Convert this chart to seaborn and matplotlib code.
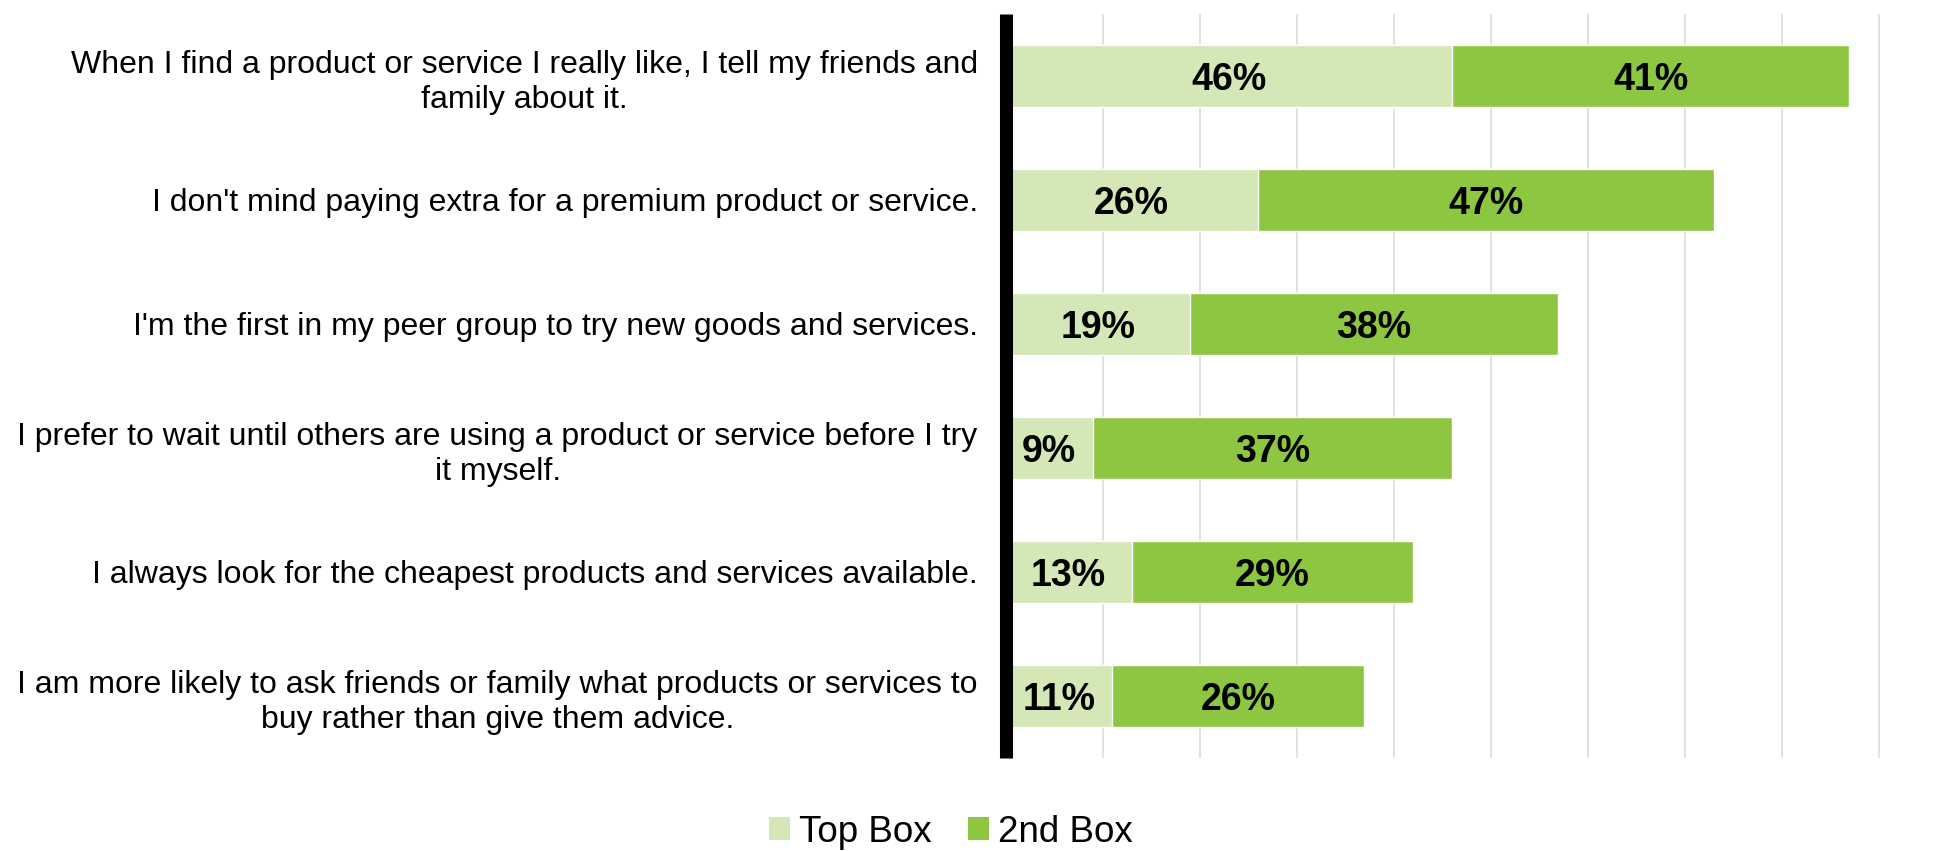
import matplotlib
matplotlib.use("Agg")
import matplotlib.pyplot as plt
import seaborn as sns
import pandas as pd
from matplotlib.patches import Patch

categories = [
    "When I find a product or service I really like, I tell my friends and\nfamily about it.",
    "I don't mind paying extra for a premium product or service.",
    "I'm the first in my peer group to try new goods and services.",
    "I prefer to wait until others are using a product or service before I try\nit myself.",
    "I always look for the cheapest products and services available.",
    "I am more likely to ask friends or family what products or services to\nbuy rather than give them advice.",
]
top_box = [46, 26, 19, 9, 13, 11]
second_box = [41, 47, 38, 37, 29, 26]
series_names = ["Top Box", "2nd Box"]

light = "#D3E8B6"
dark = "#8DC641"

sns.set_theme(style="white")
plt.rcParams["font.family"] = ["Liberation Sans", "DejaVu Sans"]
plt.rcParams["text.color"] = "black"
plt.rcParams["ytick.color"] = "black"

df = pd.DataFrame({"cat": categories, "top": top_box, "second": second_box})
df["total"] = df["top"] + df["second"]

fig = plt.figure(figsize=(19.6, 8.51), dpi=100)
ax = fig.add_axes([1005.5 / 1960, 1 - 758 / 851, 1 - 1005.5 / 1960, (758 - 14) / 851])

sns.barplot(data=df, y="cat", x="total", color=dark, orient="h", width=0.5,
            saturation=1, ax=ax, zorder=2)
sns.barplot(data=df, y="cat", x="top", color=light, orient="h", width=0.5,
            saturation=1, ax=ax, zorder=3)

ax.set_xlim(0, (1960 - 1005.5) / 9.7)
ax.set_ylim(5.5, -0.5)
ax.set_xticks(range(10, 100, 10))
ax.grid(axis="x", color="#D9D9D9", linewidth=1.1, zorder=0)
ax.grid(axis="y", visible=False)
ax.tick_params(axis="x", bottom=False, labelbottom=False)
ax.tick_params(axis="y", left=False, pad=14, labelsize=23, labelcolor="black")
for lbl in ax.get_yticklabels():
    lbl.set_multialignment("center")
    lbl.set_linespacing(1.26)
ax.set_xlabel("")
ax.set_ylabel("")
for s in ["top", "right", "bottom", "left"]:
    ax.spines[s].set_visible(False)
ax.axvline(0, color="black", linewidth=9.4, zorder=5, clip_on=False,
           solid_capstyle="butt")

for i, (t, s) in enumerate(zip(top_box, second_box)):
    ax.text(t / 2, i, f"{t}%", ha="center", va="center_baseline", fontsize=27,
            fontweight="bold", color="black", zorder=6)
    ax.text(t + s / 2, i, f"{s}%", ha="center", va="center_baseline", fontsize=27,
            fontweight="bold", color="black", zorder=6)

handles = [Patch(facecolor=light, edgecolor="none"), Patch(facecolor=dark, edgecolor="none")]
fig.legend(handles, series_names, loc="center", bbox_to_anchor=(951 / 1960, 1 - 832 / 851),
           ncol=2, frameon=False, fontsize=26.5, handlelength=0.55, handleheight=0.55,
           handletextpad=0.25, columnspacing=1.0, borderaxespad=0, labelcolor="black")

fig.savefig("out.png", dpi=100)
